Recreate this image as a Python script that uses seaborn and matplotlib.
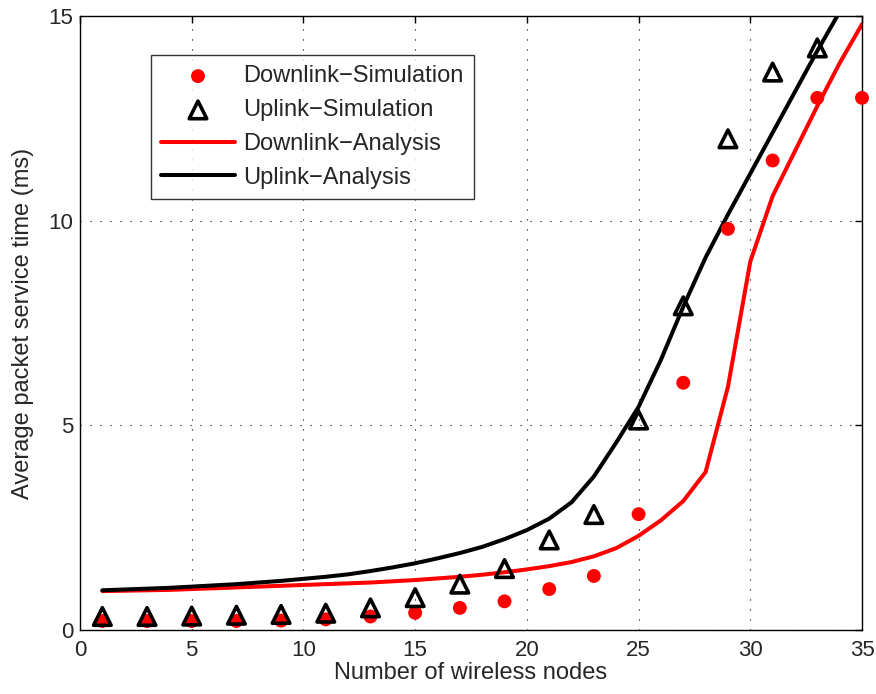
import numpy as np
import pandas as pd
import matplotlib
matplotlib.use("Agg")
import matplotlib.pyplot as plt
import seaborn as sns

# ---- data ----
sim_nodes = [1, 3, 5, 7, 9, 11, 13, 15, 17, 19, 21, 23, 25, 27, 29, 31, 33, 35]
downlink_sim = [0.22, 0.22, 0.22, 0.22, 0.23, 0.26, 0.33, 0.42, 0.54, 0.70,
                1.00, 1.32, 2.83, 6.04, 9.80, 11.47, 13.00, 13.00]
uplink_sim_nodes = [1, 3, 5, 7, 9, 11, 13, 15, 17, 19, 21, 23, 25, 27, 29, 31, 33]
uplink_sim = [0.33, 0.33, 0.34, 0.36, 0.38, 0.41, 0.54, 0.79, 1.12, 1.50,
              2.20, 2.82, 5.13, 7.92, 12.00, 13.63, 14.22]

ana_nodes = list(range(1, 36))
downlink_ana = [0.95, 0.96, 0.97, 0.98, 1.00, 1.02, 1.04, 1.06, 1.08, 1.10,
                1.12, 1.14, 1.16, 1.19, 1.22, 1.26, 1.30, 1.35, 1.41, 1.48,
                1.56, 1.66, 1.80, 2.00, 2.30, 2.68, 3.15, 3.86, 5.94, 9.00,
                10.60, 11.70, 12.80, 13.85, 14.80]
uplink_ana = [0.97, 0.99, 1.01, 1.03, 1.06, 1.09, 1.12, 1.16, 1.20, 1.25,
              1.30, 1.36, 1.44, 1.53, 1.63, 1.75, 1.88, 2.03, 2.22, 2.44,
              2.72, 3.12, 3.75, 4.58, 5.45, 6.60, 7.90, 9.10, 10.15, 11.15,
              12.15, 13.15, 14.15, 15.10, 16.10]

x_ticks = [0, 5, 10, 15, 20, 25, 30, 35]
y_ticks = [0, 5, 10, 15]

labels = ["Downlink\u2212Simulation", "Uplink\u2212Simulation",
          "Downlink\u2212Analysis", "Uplink\u2212Analysis"]

# ---- plotting ----
sns.set_theme(style="white")
plt.rcParams["font.family"] = ["Liberation Sans", "DejaVu Sans"]

fig = plt.figure(figsize=(8.76, 6.94), dpi=100)
ax = fig.add_axes([80 / 876, 64 / 694, 782 / 876, 614 / 694])

df_dl_sim = pd.DataFrame({"x": sim_nodes, "y": downlink_sim})
df_ul_sim = pd.DataFrame({"x": uplink_sim_nodes, "y": uplink_sim})
df_dl_ana = pd.DataFrame({"x": ana_nodes, "y": downlink_ana})
df_ul_ana = pd.DataFrame({"x": ana_nodes, "y": uplink_ana})

sns.lineplot(data=df_dl_ana, x="x", y="y", ax=ax, color="#ff0000",
             linewidth=2.9, label=labels[2], zorder=2)
sns.lineplot(data=df_ul_ana, x="x", y="y", ax=ax, color="black",
             linewidth=2.9, label=labels[3], zorder=2)
sns.scatterplot(data=df_dl_sim, x="x", y="y", ax=ax, color="#ff0000",
                marker="o", s=100, edgecolor="none", label=labels[0],
                zorder=3, clip_on=False)
sns.scatterplot(data=df_ul_sim, x="x", y="y", ax=ax, marker="^", s=160,
                facecolor="none", edgecolor="black", linewidth=2.6,
                label=labels[1], zorder=4, clip_on=False)

ax.set_xlim(0, 35)
ax.set_ylim(0, 15)
ax.set_xticks(x_ticks)
ax.set_yticks(y_ticks)
ax.set_xlabel("Number of wireless nodes", fontsize=17, labelpad=1)
ax.set_ylabel("Average packet service time (ms)", fontsize=17, labelpad=10)
ax.tick_params(axis="both", labelsize=16, direction="in", length=5,
               width=1, color="black", top=True, right=True)
ax.tick_params(axis="x", pad=7)
ax.tick_params(axis="y", pad=5)
ax.grid(True, linestyle=(0, (1, 8)), color="black", linewidth=0.8)
for sp in ax.spines.values():
    sp.set_color("black")
    sp.set_linewidth(1.0)

handles, labs = ax.get_legend_handles_labels()
order = [labs.index(l) for l in labels]
leg = ax.legend([handles[i] for i in order], [labs[i] for i in order],
                loc="upper left", bbox_to_anchor=(0.0905, 0.937),
                fontsize=17, frameon=True, fancybox=False, borderpad=0.45,
                handlelength=3.1, labelspacing=0.5, handletextpad=0.35,
                borderaxespad=0)
leg.get_frame().set_edgecolor("black")
leg.get_frame().set_linewidth(1.0)

fig.savefig("out.png", dpi=100)
